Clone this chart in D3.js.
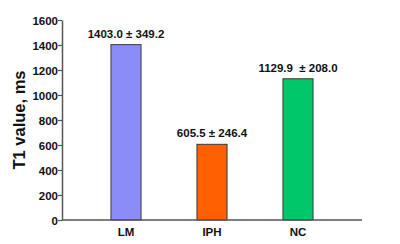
<!DOCTYPE html>
<html>
<head>
<meta charset="utf-8">
<script src="https://cdn.jsdelivr.net/npm/d3@7"></script>
<style>
  body { margin: 0; background: #fff; }
  svg text { font-family: "Liberation Sans", Arial, sans-serif; font-weight: bold; fill: #111; white-space: pre; }
</style>
</head>
<body>
<div id="chart"></div>
<script>
// Data
const groups = ['LM', 'IPH', 'NC'];
const means = [1403.0, 605.5, 1129.9];
const sds = [349.2, 246.4, 208.0];
const labels = ['1403.0 \u00b1 349.2', '605.5 \u00b1 246.4', '1129.9  \u00b1 208.0'];
const barColors = ['#8c8cf8', '#ff5f00', '#00c86a'];
const yTicks = [0, 200, 400, 600, 800, 1000, 1200, 1400, 1600];

const width = 400, height = 244;
const margin = { top: 20, right: 38, bottom: 24, left: 62 };

const svg = d3.select('#chart')
  .append('svg')
  .attr('width', width)
  .attr('height', height);

const x = d3.scaleBand()
  .domain(groups)
  .range([margin.left + 21, width - margin.right - 21])
  .paddingInner(0.65)
  .paddingOuter(0.325);

const y = d3.scaleLinear()
  .domain([0, 1600])
  .range([height - margin.bottom, margin.top]);

// Y axis
const yAxis = svg.append('g')
  .attr('transform', `translate(${margin.left},0)`)
  .call(d3.axisLeft(y).tickValues(yTicks).tickFormat(d3.format('d')).tickSize(4).tickSizeOuter(0));
yAxis.select('.domain').attr('stroke', '#555').attr('stroke-width', 1.5);
yAxis.selectAll('.tick line').attr('stroke', '#555').attr('stroke-width', 1.2);
yAxis.selectAll('.tick text').attr('font-size', 11.5).attr('x', -4).attr('dy', '0.35em');

// Bars
svg.selectAll('rect.bar')
  .data(groups)
  .enter()
  .append('rect')
  .attr('class', 'bar')
  .attr('x', d => x(d))
  .attr('y', (d, i) => y(means[i]))
  .attr('width', x.bandwidth())
  .attr('height', (d, i) => y(0) - y(means[i]))
  .attr('fill', (d, i) => barColors[i])
  .attr('stroke', '#3a3a3a')
  .attr('stroke-width', 1);

// Value labels
svg.selectAll('text.val')
  .data(groups)
  .enter()
  .append('text')
  .attr('class', 'val')
  .attr('x', d => x(d) + x.bandwidth() / 2)
  .attr('y', (d, i) => y(means[i]) - 7)
  .attr('text-anchor', 'middle')
  .attr('font-size', 11.5)
  .text((d, i) => labels[i]);

// X axis
const xAxis = svg.append('g')
  .attr('transform', `translate(0,${y(0)})`);
xAxis.append('line')
  .attr('x1', margin.left)
  .attr('x2', 362)
  .attr('stroke', '#555')
  .attr('stroke-width', 1.5);
xAxis.selectAll('text')
  .data(groups)
  .enter()
  .append('text')
  .attr('x', d => x(d) + x.bandwidth() / 2)
  .attr('y', 16)
  .attr('text-anchor', 'middle')
  .attr('font-size', 11.5)
  .text(d => d);

// Y label
svg.append('text')
  .attr('transform', `translate(25,${(y(0) + y(1600)) / 2}) rotate(-90)`)
  .attr('text-anchor', 'middle')
  .attr('font-size', 16.5)
  .text('T1 value, ms');
</script>
</body>
</html>
